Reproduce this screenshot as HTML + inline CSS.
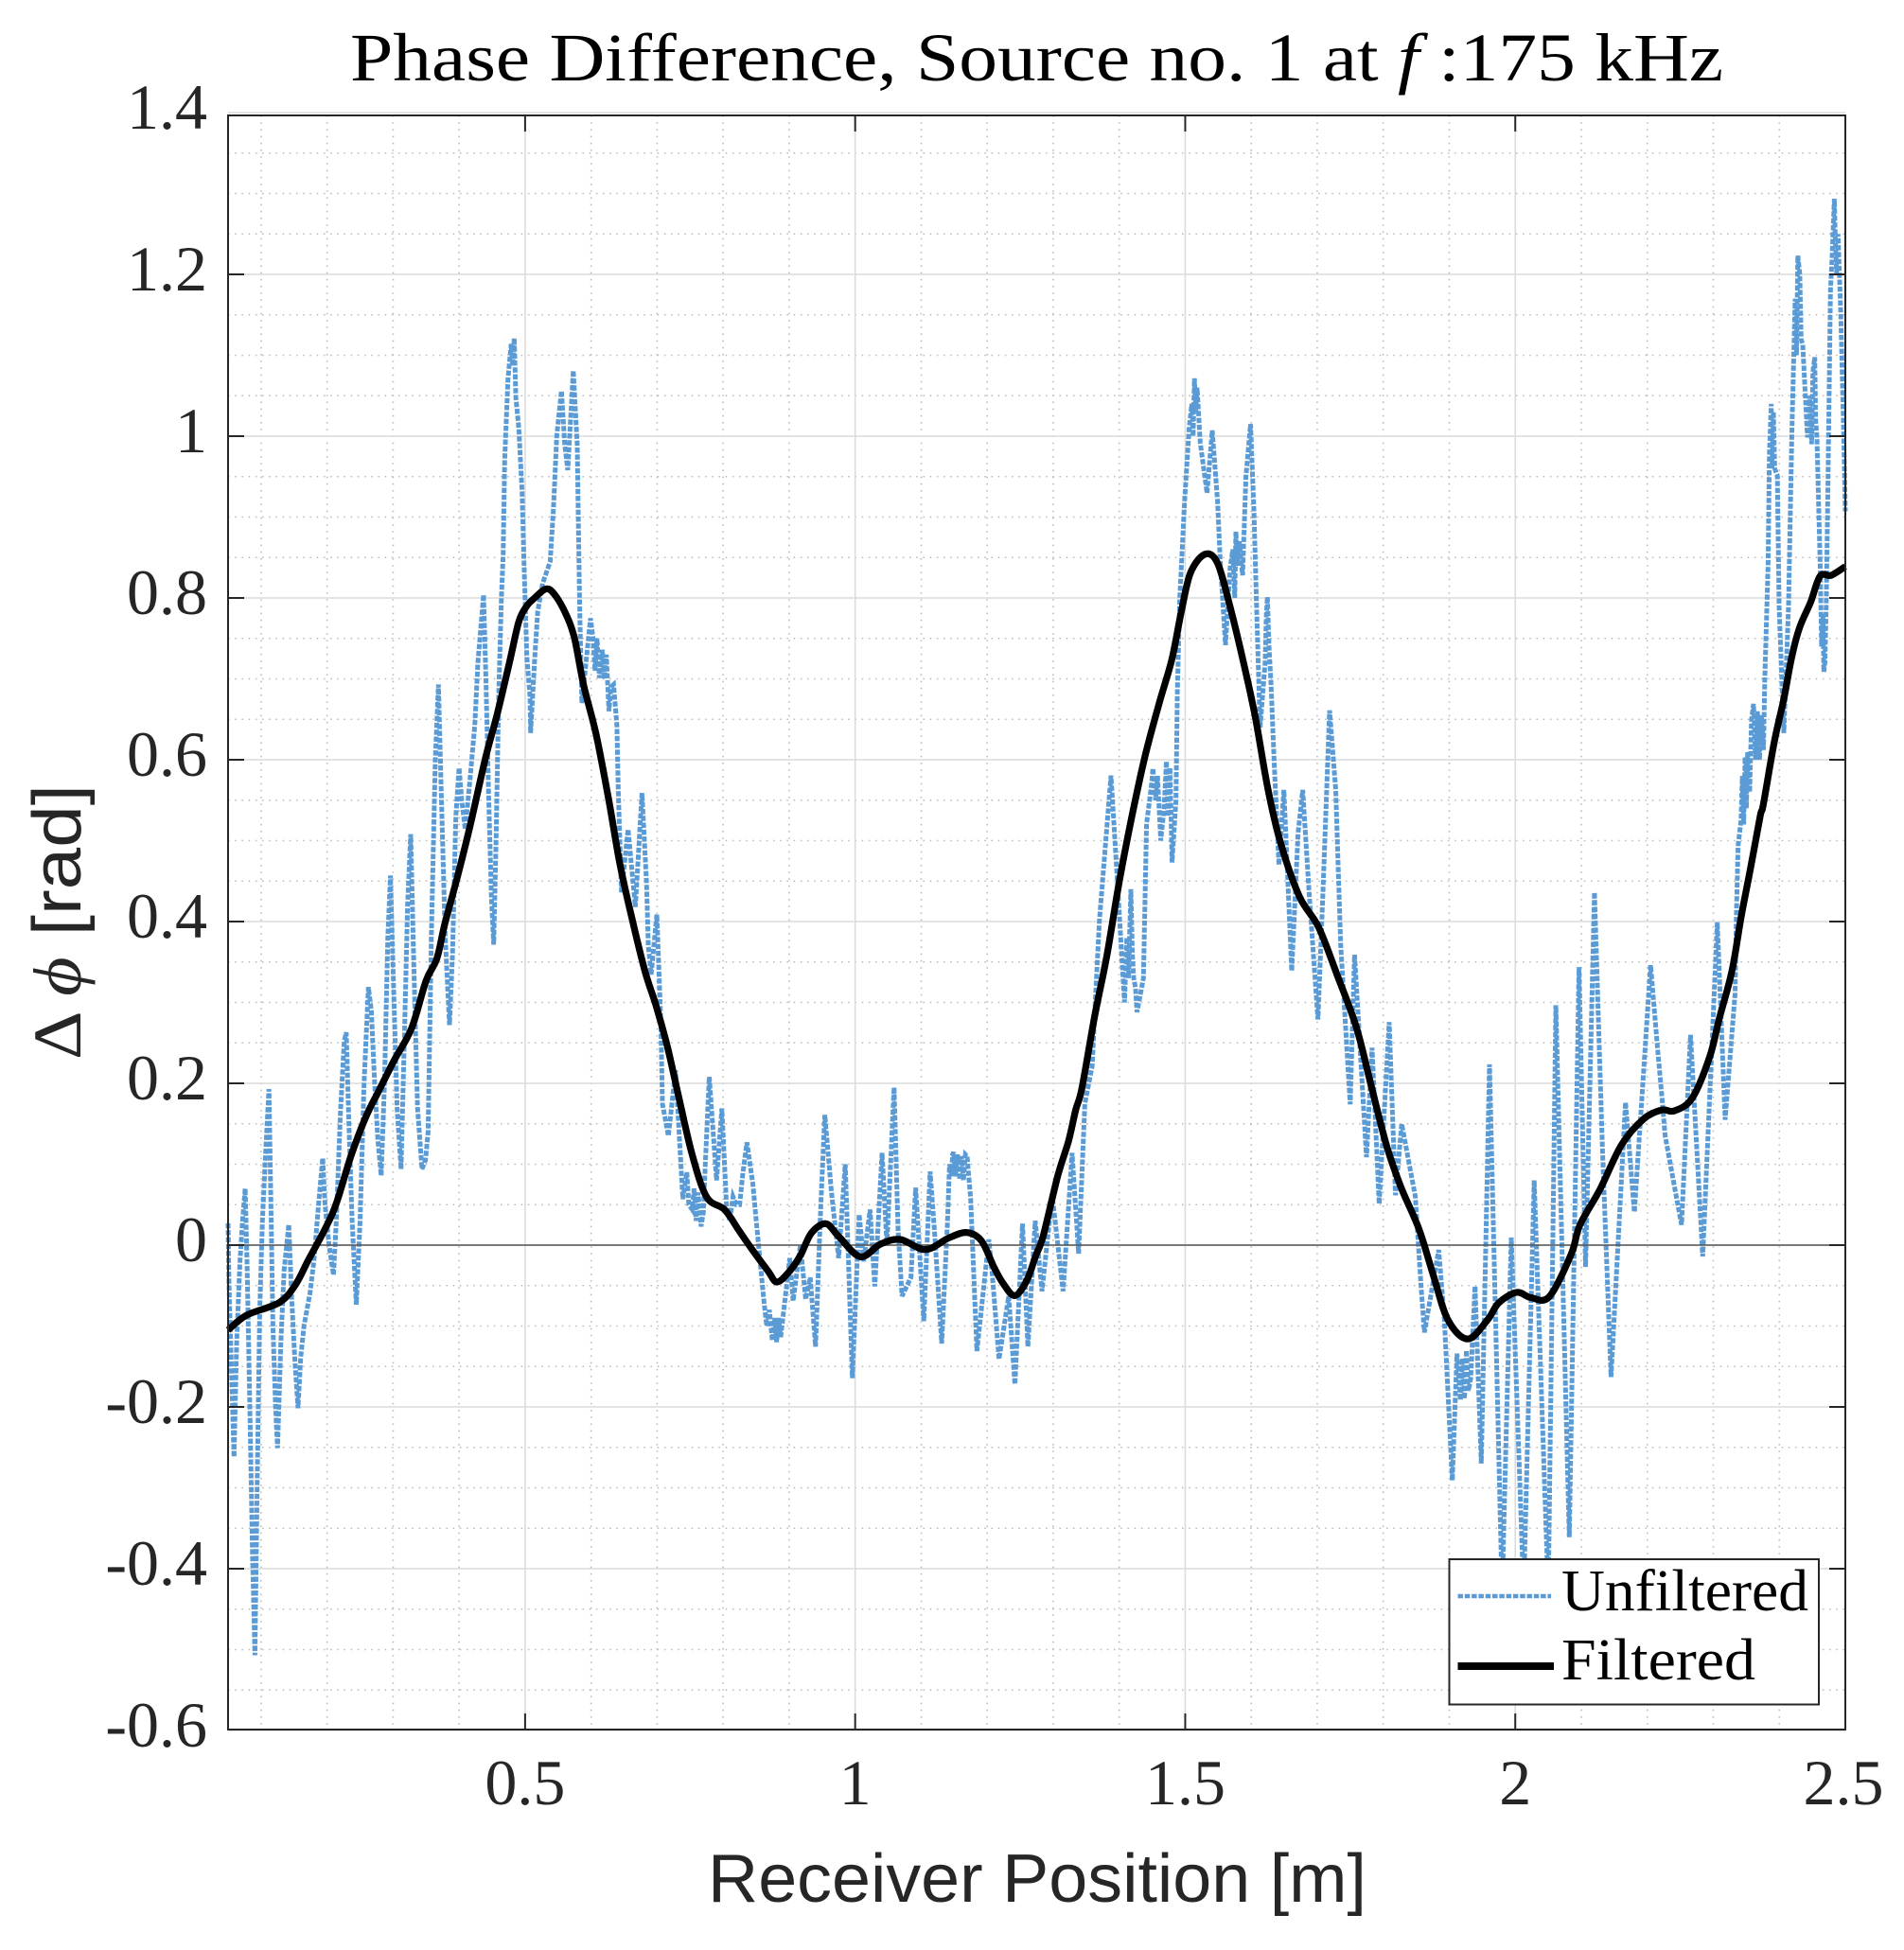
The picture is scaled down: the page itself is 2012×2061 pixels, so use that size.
<!DOCTYPE html>
<html lang="en">
<head>
<meta charset="utf-8">
<title>Phase Difference</title>
<style>
html,body{margin:0;padding:0;background:#fff;}
body{width:2012px;height:2061px;overflow:hidden;}
svg{display:block;}
.tick{font-family:"Liberation Serif",serif;font-size:68px;fill:#262626;}
</style>
</head>
<body>
<svg id="chart" xmlns="http://www.w3.org/2000/svg" width="2012" height="2061" viewBox="0 0 2012 2061">
  <rect x="0" y="0" width="2012" height="2061" fill="#ffffff"/>
  <g id="grid"></g>
  <g id="series"></g>
  <g id="axes"></g>
  <text x="370" y="85" textLength="1451" lengthAdjust="spacingAndGlyphs" font-family="'Liberation Serif',serif" font-size="72" fill="#000">Phase Difference, Source no. 1 at <tspan font-style="italic">f</tspan> :175 kHz</text>
  <text x="748" y="2010" textLength="696" lengthAdjust="spacingAndGlyphs" font-family="'Liberation Sans',sans-serif" font-size="72" fill="#262626">Receiver Position [m]</text>
  <text transform="translate(85 1120) rotate(-90)" x="0" y="0" textLength="291" lengthAdjust="spacingAndGlyphs" font-family="'Liberation Sans',sans-serif" font-size="72" fill="#262626"><tspan font-family="'Liberation Serif',serif">Δ <tspan font-style="italic">ϕ</tspan></tspan> [rad]</text>
  <g>
    <rect x="1531.5" y="1648" width="390.5" height="153.5" fill="#fff" stroke="#262626" stroke-width="2"/>
    <line x1="1540.5" y1="1687" x2="1639" y2="1687" stroke="#5b9bd5" stroke-width="4.5" stroke-dasharray="5.5 1.8"/>
    <text x="1650" y="1702" textLength="261" lengthAdjust="spacingAndGlyphs" font-family="'Liberation Serif',serif" font-size="62" fill="#000">Unfiltered</text>
    <line x1="1540.5" y1="1761" x2="1642" y2="1761" stroke="#000" stroke-width="8"/>
    <text x="1650" y="1775" textLength="205" lengthAdjust="spacingAndGlyphs" font-family="'Liberation Serif',serif" font-size="62" fill="#000">Filtered</text>
  </g>
</svg>
<script>
const xTicks = [0.5, 1, 1.5, 2, 2.5];
const xTickLabels = ["0.5", "1", "1.5", "2", "2.5"];
const yTicks = [-0.6, -0.4, -0.2, 0, 0.2, 0.4, 0.6, 0.8, 1, 1.2, 1.4];
const yTickLabels = ["-0.6", "-0.4", "-0.2", "0", "0.2", "0.4", "0.6", "0.8", "1", "1.2", "1.4"];
const xMinorTicks = [0.1, 0.2, 0.3, 0.4, 0.6, 0.7, 0.8, 0.9, 1.1, 1.2, 1.3, 1.4, 1.6, 1.7, 1.8, 1.9, 2.1, 2.2, 2.3, 2.4];
const yMinorTicks = [-0.55, -0.5, -0.45, -0.35, -0.3, -0.25, -0.15, -0.1, -0.05, 0.05, 0.1, 0.15, 0.25, 0.3, 0.35, 0.45, 0.5, 0.55, 0.65, 0.7, 0.75, 0.85, 0.9, 0.95, 1.05, 1.1, 1.15, 1.25, 1.3, 1.35];

const unfilteredPosition = [
0.05,0.0515,0.059,0.063,0.068,0.072,0.076,0.079,0.083,0.087,0.0907,0.094,0.098,0.102,0.106,0.112,0.115,0.118,0.122,0.125,
0.13,0.135,0.142,0.146,0.151,0.156,0.16,0.165,0.174,0.18,0.187,0.1933,0.197,0.203,0.2097,0.214,0.22,0.226,0.229,0.233,
0.238,0.2443,0.25,0.256,0.2626,0.267,0.272,0.277,0.282,0.287,0.292,0.296,0.3,0.306,0.312,0.317,0.322,0.3267,0.331,0.337,
0.3437,0.349,0.353,0.358,0.364,0.3687,0.373,0.379,0.3855,0.39,0.395,0.4,0.404,0.4093,0.4165,0.4237,0.4284,0.437,0.441,0.445,
0.449,0.4524,0.456,0.46,0.4642,0.4668,0.469,0.474,0.479,0.481,0.4835,0.486,0.4906,0.4954,0.498,0.5,0.5026,0.5074,0.5083,0.5145,
0.519,0.5265,0.538,0.543,0.548,0.555,0.56,0.5647,0.573,0.579,0.5815,0.583,0.586,0.599,0.6125,0.617,0.627,0.634,0.639,0.641,
0.646,0.656,0.667,0.677,0.684,0.6866,0.691,0.6995,0.7057,0.708,0.717,0.728,0.739,0.753,0.7665,0.779,0.79,0.798,0.805,0.82,
0.836,0.845,0.851,0.862,0.8744,0.887,0.901,0.906,0.917,0.925,0.932,0.94,0.948,0.954,0.964,0.975,0.985,0.9957,1.006,1.013,
1.0225,1.0297,1.0407,1.048,1.059,1.065,1.071,1.0845,1.0916,1.104,1.1136,1.12,1.131,1.14,1.1476,1.1585,1.1696,1.175,1.1844,1.2025,
1.208,1.218,1.2325,1.242,1.2535,1.2617,1.2727,1.283,1.2985,1.315,1.3286,1.3385,1.348,1.359,1.3626,1.37,1.3875,1.396,1.408,1.4176,
1.4247,1.427,1.4367,1.4415,1.451,1.463,1.4716,1.48,1.486,1.488,1.4917,1.499,1.506,1.514,1.5227,1.533,1.541,1.549,1.5528,1.561,
1.568,1.5767,1.587,1.592,1.599,1.604,1.6087,1.6135,1.6245,1.63,1.635,1.642,1.6494,1.6614,1.671,1.678,1.6876,1.701,1.709,1.7187,
1.728,1.7354,1.75,1.7565,1.7746,1.783,1.7938,1.809,1.8185,1.828,1.8486,1.857,1.8624,1.884,1.8925,1.9046,1.9117,1.917,1.9325,1.939,
1.9485,1.961,1.98,1.994,2.0127,2.0286,2.05,2.0615,2.0818,2.0966,2.1065,2.12,2.132,2.145,2.167,2.1805,2.205,2.216,2.2217,2.227,
2.2518,2.2655,2.284,2.306,2.318,2.333,2.335,2.3376,2.342,2.345,2.3495,2.361,2.376,2.378,2.383,2.3877,2.397,2.3997,2.4068,2.414,
2.4188,2.428,2.4355,2.4427,2.4537,2.457,2.4618,2.4675,2.4737,2.4775,2.4833,2.493,2.4977,2.5
];
const unfilteredPhase = [
0.027,-0.05,-0.262,-0.12,-0.02,0.03,0.07,-0.03,-0.2,-0.38,-0.507,-0.3,-0.08,0.03,0.1,0.193,0.05,-0.1,-0.2,-0.251,
-0.12,-0.03,0.0256,-0.06,-0.14,-0.2016,-0.14,-0.1,-0.06,-0.02,0.05,0.1076,0.05,0,-0.037,0.03,0.16,0.253,0.263,0.15,
0.03,-0.0736,0.03,0.2,0.319,0.29,0.2,0.13,0.086,0.2,0.38,0.457,0.34,0.17,0.094,0.25,0.42,0.508,0.36,0.17,
0.094,0.105,0.14,0.38,0.6,0.693,0.56,0.38,0.272,0.36,0.53,0.59,0.55,0.514,0.576,0.6425,0.72,0.804,0.69,0.55,
0.43,0.3715,0.5,0.68,0.802,0.853,0.97,1.071,1.114,1.087,1.121,1.048,1.009,0.931,0.853,0.798,0.728,0.678,0.633,0.7243,
0.783,0.818,0.845,0.9115,1.001,1.056,0.989,0.958,1.081,0.989,0.853,0.775,0.67,0.775,0.701,0.736,0.66,0.693,0.642,0.5645,
0.436,0.514,0.418,0.559,0.448,0.37,0.3345,0.4086,0.272,0.175,0.135,0.216,0.057,0.044,0.023,0.208,0.08,0.169,0.049,0.05,
0.127,0.075,0.023,-0.071,-0.118,-0.114,-0.016,-0.069,0,-0.067,-0.04,-0.1255,0.05,0.161,0.0655,-0.016,0.1,-0.1645,0.038,-0.02,
0.044,-0.051,0.114,0,0.195,0.019,-0.063,-0.04,0.071,-0.094,0.091,0.019,-0.1216,0.03,0.112,0.081,0.11,0.058,-0.131,0.007,
-0.04,-0.141,-0.063,-0.172,0.0265,-0.1255,0.03,-0.057,0.0616,-0.057,0.114,-0.0105,0.175,0.221,0.282,0.4016,0.5805,0.467,0.3,0.44,
0.318,0.288,0.33,0.521,0.5895,0.5,0.598,0.473,0.55,0.682,0.8,0.92,1.01,1.0716,0.992,0.9296,1.007,0.92,0.849,0.7416,
0.837,0.882,0.828,0.95,1.015,0.909,0.7715,0.64,0.8013,0.694,0.5925,0.47,0.5627,0.339,0.509,0.5627,0.437,0.279,0.443,0.661,
0.5627,0.372,0.174,0.359,0.1086,0.244,0.051,0.2757,0.0616,0.15,0.06,-0.048,-0.108,-0.006,-0.09,-0.291,-0.134,-0.1916,-0.1655,-0.0507,
-0.27,0.2235,-0.43,0.0094,-0.43,0.08,-0.43,0.2966,-0.361,0.3436,-0.027,0.436,0.12,-0.163,0.1765,0.0407,0.346,0.239,0.187,0.135,
0.025,0.26,-0.014,0.399,0.155,0.311,0.4086,0.494,0.525,0.545,0.6,0.669,0.612,0.7,0.842,1.04,0.951,0.79,0.633,0.79,
0.9984,1.223,1.113,0.9984,1.0977,0.9984,0.8418,0.7086,0.946,1.181,1.2935,1.155,0.9984,0.907
];

const ripplePosition = [
1.143,1.146,1.149,1.152,1.155,1.161,1.164,1.167,1.172,
0.745,0.748,0.756,0.759,0.762,0.77,0.773,
0.81,0.815,0.825,0.83,
0.866,0.87,0.878,0.881,0.884,
0.603,0.606,0.609,0.62,0.623,0.63,
2.344,2.346,2.348,2.35,2.352,2.355,2.358,2.364,2.367,2.37,2.373,
2.446,2.449,2.451,2.455,
2.424,2.426,2.431,2.433,
2.385,2.386,2.389,2.391,2.393,
2.48,2.485,2.487,2.489,
2.464,2.466,2.469,2.471,
1.51,1.512,1.516,1.518,
1.446,1.449,1.455,1.458,
1.468,1.474,1.477,
1.4115,1.414,1.42,1.422,
1.572,1.575,1.579,1.582,
1.621,1.623,1.627,
1.92,1.923,1.926,1.929
];
const ripplePhase = [
0.10,0.085,0.115,0.085,0.112,0.11,0.08,0.112,0.085,
0.09,0.05,0.07,0.03,0.065,0.04,0.10,
0.03,0.06,0.05,0.09,
-0.1,-0.08,-0.09,-0.12,-0.09,
0.75,0.71,0.75,0.70,0.73,0.69,
0.58,0.52,0.60,0.54,0.61,0.56,0.65,0.60,0.66,0.60,0.655,
1.05,0.99,1.08,1.02,
1.17,1.10,1.2,1.12,
0.98,1.0,0.96,1.03,0.96,
1.22,1.24,1.2,1.25,
0.74,0.78,0.72,0.79,
1.04,1.0,1.03,1.06,
0.55,0.57,0.55,0.58,
0.54,0.53,0.59,
0.38,0.33,0.36,0.33,
0.86,0.80,0.84,0.87,
0.72,0.78,0.74,
-0.14,-0.19,-0.13,-0.18
];

const filteredPosition = [
0.05,0.078,0.1275,0.152,0.1713,0.1988,0.215,0.237,0.259,0.278,0.302,0.328,0.35,0.3663,0.3783,0.3974,0.4165,0.4404,0.457,0.4762,
0.4906,0.5025,0.5145,0.531,0.543,0.56,0.5742,0.5885,0.6077,0.627,0.6436,0.6627,0.6818,0.6985,0.715,0.732,0.753,0.775,0.802,0.824,
0.846,0.868,0.8816,0.9008,0.9172,0.9337,0.9556,0.9748,1.0077,1.0379,1.068,1.1065,1.142,1.1696,1.1915,1.2107,1.2244,1.242,1.26,1.2738,
1.2847,1.3067,1.323,1.334,1.3435,1.3626,1.3818,1.4,1.42,1.439,1.4606,1.4797,1.494,1.508,1.5299,1.549,1.568,1.5873,1.6063,1.6255,
1.6446,1.673,1.702,1.7306,1.759,1.78,1.8047,1.8267,1.854,1.876,1.898,1.928,1.958,1.9748,2.002,2.024,2.0516,2.0845,2.098,2.1284,
2.161,2.194,2.2217,2.241,2.268,2.2946,2.309,2.328,2.342,2.3567,2.371,2.3758,2.3925,2.4068,2.4188,2.4307,2.4475,2.4618,2.4785,2.5
];
const filteredPhase = [
-0.105,-0.0867,-0.071,-0.049,-0.019,0.023,0.054,0.112,0.159,0.19,0.229,0.268,0.327,0.354,0.397,0.455,0.518,0.6035,0.654,0.72,
0.771,0.79,0.8,0.811,0.806,0.783,0.752,0.693,0.631,0.549,0.471,0.401,0.338,0.2955,0.247,0.186,0.112,0.0595,0.044,0.018,
-0.008,-0.032,-0.0456,-0.032,-0.0125,0.015,0.0265,0.011,-0.0144,0.001,0.007,-0.0055,0.009,0.0156,0.005,-0.028,-0.0476,-0.0624,-0.0437,-0.0125,
0.011,0.085,0.128,0.167,0.194,0.282,0.36,0.449,0.533,0.604,0.67,0.724,0.783,0.831,0.854,0.843,0.789,0.724,0.652,0.563,
0.497,0.431,0.393,0.333,0.27,0.2026,0.124,0.072,0.02,-0.0376,-0.0924,-0.116,-0.0924,-0.0715,-0.0585,-0.065,-0.0637,-0.0115,0.025,0.069,
0.124,0.1556,0.167,0.166,0.1817,0.233,0.28,0.338,0.405,0.467,0.53,0.545,0.6225,0.675,0.727,0.7635,0.795,0.827,0.828,0.839
];

const xDomainMin = 0.05;
const xDomainMax = 2.5;
const plotLeft = 241;
const plotRight = 1950;
const plotTop = 122;
const plotBottom = 1828;
const NS = 'http://www.w3.org/2000/svg';

function xScale(v) { return plotLeft + (v - xDomainMin) / (xDomainMax - xDomainMin) * (plotRight - plotLeft); }
function yScale(v) { return 1316 - v * 855; }
function yClamp(p) { return Math.min(plotBottom, Math.max(plotTop, p)); }

function make(parent, tag, attrs) {
  const el = document.createElementNS(NS, tag);
  for (const k in attrs) el.setAttribute(k, attrs[k]);
  parent.appendChild(el);
  return el;
}

function smoothPath(pts) {
  let d = 'M' + pts[0][0].toFixed(1) + ' ' + pts[0][1].toFixed(1);
  for (let i = 0; i < pts.length - 1; i++) {
    const p0 = pts[Math.max(0, i - 1)], p1 = pts[i], p2 = pts[i + 1], p3 = pts[Math.min(pts.length - 1, i + 2)];
    const c1x = p1[0] + (p2[0] - p0[0]) / 6, c1y = p1[1] + (p2[1] - p0[1]) / 6;
    const c2x = p2[0] - (p3[0] - p1[0]) / 6, c2y = p2[1] - (p3[1] - p1[1]) / 6;
    d += 'C' + c1x.toFixed(1) + ' ' + c1y.toFixed(1) + ' ' + c2x.toFixed(1) + ' ' + c2y.toFixed(1) + ' ' + p2[0].toFixed(1) + ' ' + p2[1].toFixed(1);
  }
  return d;
}

const grid = document.getElementById('grid');
const series = document.getElementById('series');
const axes = document.getElementById('axes');

xMinorTicks.forEach(function (v) {
  const l = make(grid, 'line', { x1: xScale(v), x2: xScale(v), y1: plotTop, y2: plotBottom, stroke: '#bdbdbd', 'stroke-width': 1.6, 'stroke-dasharray': '1.6 5.6' });
  
  
});
yMinorTicks.forEach(function (v) {
  const l = make(grid, 'line', { x1: plotLeft, x2: plotRight, y1: yScale(v), y2: yScale(v), stroke: '#bdbdbd', 'stroke-width': 1.6, 'stroke-dasharray': '1.6 5.6' });
  
  
});
xTicks.forEach(function (v) {
  const l = make(grid, 'line', { x1: xScale(v), x2: xScale(v), y1: plotTop, y2: plotBottom, stroke: '#dcdcdc', 'stroke-width': 1.6 });
  
  
});
yTicks.forEach(function (v) {
  const l = make(grid, 'line', { x1: plotLeft, x2: plotRight, y1: yScale(v), y2: yScale(v), stroke: '#dcdcdc', 'stroke-width': 1.6 });
  
  
});

const unfilteredPoints = unfilteredPosition.map(function (x, i) { return [x, unfilteredPhase[i]]; })
  .concat(ripplePosition.map(function (x, i) { return [x, ripplePhase[i]]; }))
  .sort(function (a, b) { return a[0] - b[0]; });

const unfilteredLine = make(series, 'polyline', {
  points: unfilteredPoints.map(function (p) { return xScale(p[0]).toFixed(1) + ',' + yScale(p[1]).toFixed(1); }).join(' '),
  fill: 'none', stroke: '#5b9bd5', 'stroke-width': 5, 'stroke-dasharray': '5.5 1.8', 'stroke-linejoin': 'miter'
});



const zeroLine = make(series, 'line', { x1: plotLeft, x2: plotRight, y1: yScale(0), y2: yScale(0), stroke: '#555555', 'stroke-width': 1.6 });



const filteredLine = make(series, 'path', {
  d: smoothPath(filteredPosition.map(function (x, i) { return [xScale(x), yScale(filteredPhase[i])]; })),
  fill: 'none', stroke: '#000000', 'stroke-width': 7.2, 'stroke-linejoin': 'round'
});



const frame = make(axes, 'rect', { x: plotLeft, y: plotTop, width: plotRight - plotLeft, height: plotBottom - plotTop, fill: 'none', stroke: '#262626', 'stroke-width': 2 });



xTicks.forEach(function (v, i) {
  const px = xScale(v);
  const bottomMark = make(axes, 'line', { x1: px, x2: px, y1: plotBottom, y2: plotBottom - 17, stroke: '#262626', 'stroke-width': 2 });
  
  
  const topMark = make(axes, 'line', { x1: px, x2: px, y1: plotTop, y2: plotTop + 17, stroke: '#262626', 'stroke-width': 2 });
  
  
  const label = make(axes, 'text', { x: i === xTicks.length - 1 ? px - 2 : px, y: 1907, 'text-anchor': 'middle', class: 'tick' });
  label.textContent = xTickLabels[i];
  
  
});
yTicks.forEach(function (v, i) {
  const py = yClamp(yScale(v));
  const leftMark = make(axes, 'line', { x1: plotLeft, x2: plotLeft + 17, y1: py, y2: py, stroke: '#262626', 'stroke-width': 2 });
  
  
  const rightMark = make(axes, 'line', { x1: plotRight, x2: plotRight - 17, y1: py, y2: py, stroke: '#262626', 'stroke-width': 2 });
  
  
  const label = make(axes, 'text', { x: 219, y: yScale(v) + 17, 'text-anchor': 'end', class: 'tick' });
  label.textContent = yTickLabels[i];
  
  
});
</script>
</body>
</html>
